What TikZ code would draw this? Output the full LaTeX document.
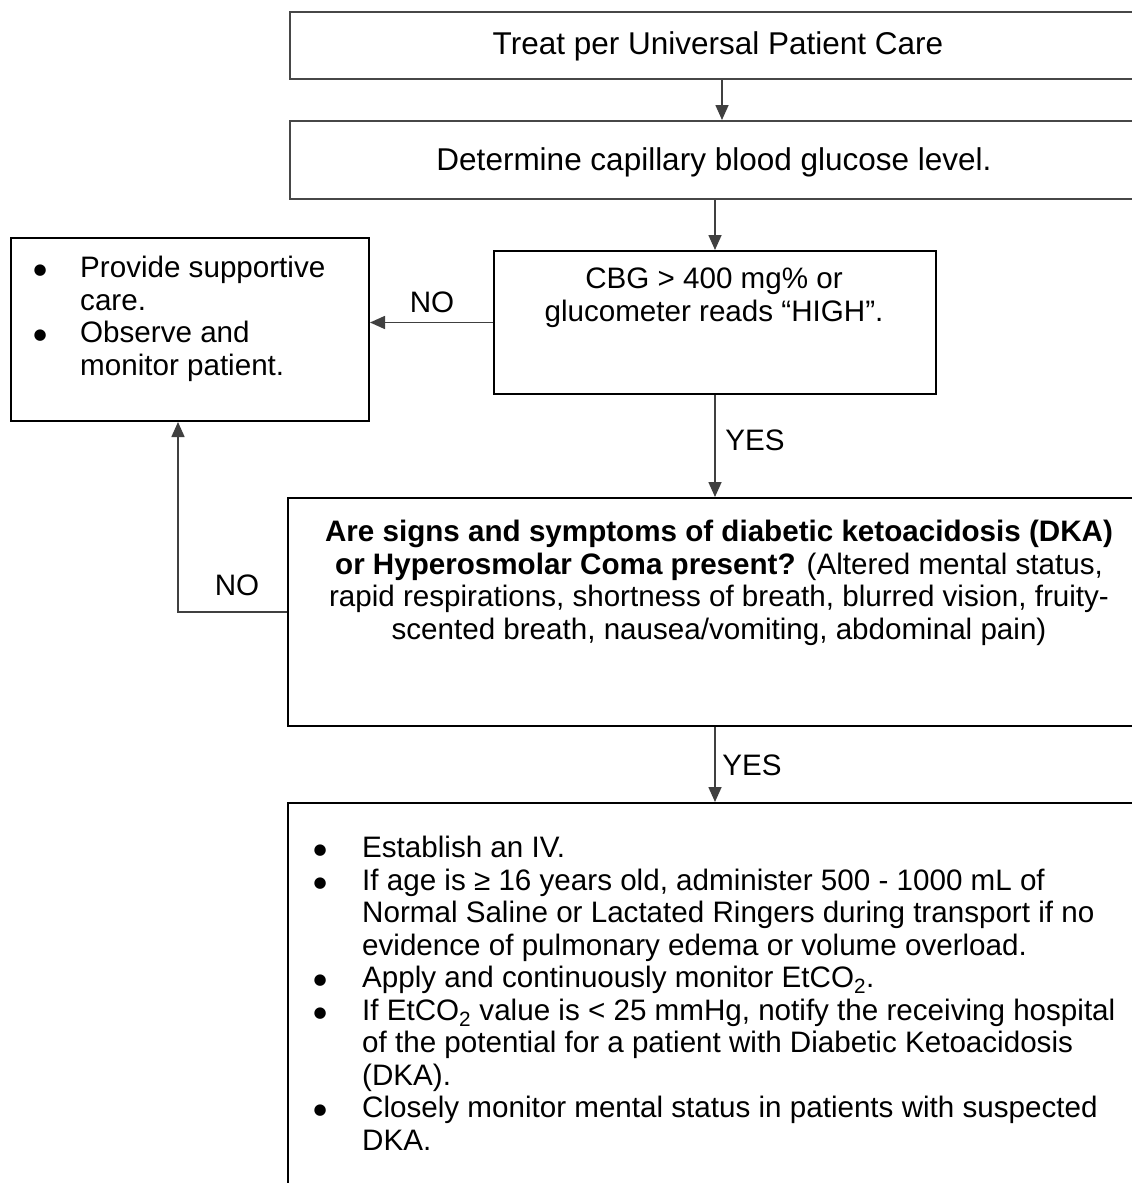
\documentclass[tikz,border=0pt]{standalone}
\usepackage{fontspec}
\setmainfont{Liberation Sans}
\newfontfamily\dotfont{DejaVu Sans}
\usetikzlibrary{arrows.meta}
% bullet marker in a fixed-width slot, and the matching hanging indent
\newcommand\bulslot[1]{\makebox[#1][l]{\hspace*{2.5pt}\raisebox{3pt}{\dotfont\fontsize{15}{15}\selectfont ●}}}
\newcommand\hangslot[1]{\hspace*{#1}}
\begin{document}
\begin{tikzpicture}[x=1pt,y=-1pt,
  box/.style={draw=black,line width=2pt,inner sep=0pt,anchor=north west},
  softbox/.style={box,draw=black!72},
  link/.style={draw=black!75,line width=1.6pt,-{Triangle[length=15pt,width=13pt]}},
  txt/.style={font=\fontsize{29.6}{32.5}\selectfont,inner sep=0pt},
  bigtxt/.style={font=\fontsize{31.5}{34}\selectfont,inner sep=0pt,anchor=base},
  lbl/.style={txt,anchor=base}]
\useasboundingbox (0,0) rectangle (1132,1183);
\fill[white] (0,0) rectangle (1132,1183);

% boxes
\node[softbox,minimum width=900pt,minimum height=67pt] (care) at (289,11) {};
\node[softbox,minimum width=900pt,minimum height=78pt] (cbgtest) at (289,120) {};
\node[box,minimum width=442pt,minimum height=143pt] (high) at (493,250) {};
\node[box,minimum width=358pt,minimum height=183pt] (support) at (10,237) {};
\node[box,minimum width=900pt,minimum height=228pt] (dka) at (287,497) {};
\node[box,minimum width=900pt,minimum height=500pt] (treat) at (287,802) {};

% box texts
\node[bigtxt] (caretxt) at (718,54) {Treat per Universal Patient Care};
\node[bigtxt] (cbgtxt) at (714,170) {Determine capillary blood glucose level.};
\node[txt,anchor=north,align=center] (hightxt) at (714,268)
  {CBG > 400 mg\% or\\glucometer reads “HIGH”.};
\node[txt,anchor=north west,align=left] (supporttxt) at (31,256)
  {\bulslot{49pt}Provide supportive\\
   \hangslot{49pt}care.\\
   \bulslot{49pt}Observe and\\
   \hangslot{49pt}monitor patient.};
\node[txt,anchor=north,align=center] (dkatxt) at (719,520)
  {\textbf{Are signs and symptoms of diabetic ketoacidosis (DKA)}\\
   \textbf{or Hyperosmolar Coma present?} (Altered mental status,\\
   rapid respirations, shortness of breath, blurred vision, fruity-\\
   scented breath, nausea/vomiting, abdominal pain)};
\node[txt,anchor=north west,align=left] (treattxt) at (311,836)
  {\bulslot{51pt}Establish an IV.\\
   \bulslot{51pt}If age is ≥ 16 years old, administer 500 - 1000 mL of\\
   \hangslot{51pt}Normal Saline or Lactated Ringers during transport if no\\
   \hangslot{51pt}evidence of pulmonary edema or volume overload.\\
   \bulslot{51pt}Apply and continuously monitor EtCO\textsubscript{2}.\\
   \bulslot{51pt}If EtCO\textsubscript{2} value is < 25 mmHg, notify the receiving hospital\\
   \hangslot{51pt}of the potential for a patient with Diabetic Ketoacidosis\\
   \hangslot{51pt}(DKA).\\
   \bulslot{51pt}Closely monitor mental status in patients with suspected\\
   \hangslot{51pt}DKA.};

% connector columns
\coordinate (colA) at (722,0);
\coordinate (colB) at (715,0);
\coordinate (colC) at (178,0);

% connectors
\draw[link] (care.south -| colA) -- (cbgtest.north -| colA);
\draw[link] (cbgtest.south -| colB) -- (high.north -| colB);
\draw[link] (high.west) -- (high.west -| support.east);
\draw[link] (high.south) -- (high.south |- dka.north);
\draw[link] (dka.west) -- (dka.west -| colC) -- (colC |- support.south);
\draw[link] (dka.south -| high.south) -- (treat.north -| high.south);

% branch labels
\node[lbl] (no1) at (432,312) {NO};
\node[lbl] (yes1) at (755,450) {YES};
\node[lbl] (no2) at (237,595) {NO};
\node[lbl] (yes2) at (752,775) {YES};
\end{tikzpicture}
\end{document}
